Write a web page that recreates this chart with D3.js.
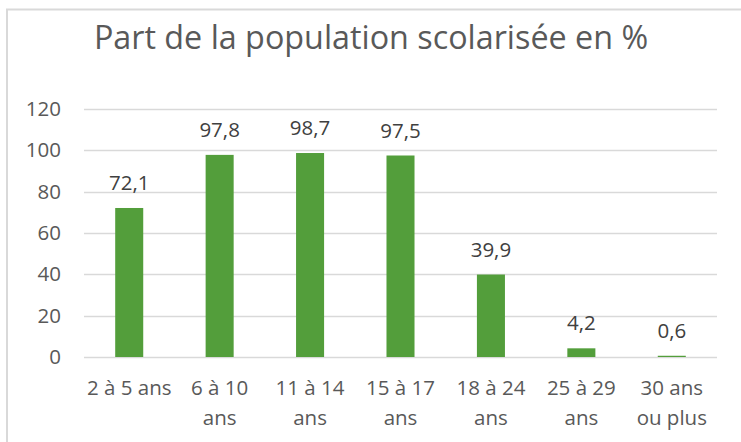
<!DOCTYPE html>
<html>
<head>
<meta charset="utf-8">
<script src="https://cdn.jsdelivr.net/npm/d3@7"></script>
<style>
body { margin:0; background:#fff; }
svg text { font-family:"Open Sans", sans-serif; }
</style>
</head>
<body>
<svg id="chart" width="741" height="442"></svg>
<script>
// categories and values
var categories = [["2 à 5 ans"], ["6 à 10", "ans"], ["11 à 14", "ans"], ["15 à 17", "ans"], ["18 à 24", "ans"], ["25 à 29", "ans"], ["30 ans", "ou plus"]];
var values = [72.1, 97.8, 98.7, 97.5, 39.9, 4.2, 0.6];
var yTicks = [0, 20, 40, 60, 80, 100, 120];
var title = "Part de la population scolarisée en %";

var svg = d3.select("#chart");

// chart frame
svg.append("rect")
  .attr("x", 7).attr("y", 9.5)
  .attr("width", 800).attr("height", 500)
  .attr("fill", "#fff")
  .attr("stroke", "#d9d9d9").attr("stroke-width", 2);

svg.append("text")
  .attr("x", 371).attr("y", 49)
  .attr("text-anchor", "middle")
  .attr("font-size", 32.3)
  .attr("fill", "#595959")
  .text(title);

var x = d3.scaleBand()
  .domain(d3.range(values.length))
  .range([84, 717])
  .paddingInner(0.69)
  .paddingOuter(0.345);

var y = d3.scaleLinear().domain([0, 120]).range([357, 109]);

// grid
svg.append("g").selectAll("line")
  .data(yTicks)
  .enter().append("line")
    .attr("x1", 84).attr("x2", 717)
    .attr("y1", function(d){ return Math.round(y(d)) + 0.5; })
    .attr("y2", function(d){ return Math.round(y(d)) + 0.5; })
    .attr("stroke", "#d9d9d9").attr("stroke-width", 1.5);

var yAxis = svg.append("g")
  .attr("transform", "translate(84,0)")
  .call(d3.axisLeft(y).tickValues(yTicks).tickSize(0).tickPadding(23));
yAxis.select(".domain").remove();
yAxis.selectAll("text")
  .attr("font-size", 20.5)
  .attr("font-family", "Open Sans")
  .attr("fill", "#595959");

svg.append("g").selectAll("rect")
  .data(values)
  .enter().append("rect")
    .attr("x", function(d, i){ return x(i); })
    .attr("y", function(d){ return y(d); })
    .attr("width", x.bandwidth())
    .attr("height", function(d){ return y(0) - y(d); })
    .attr("fill", "#539e3b");

// data labels
svg.append("g").selectAll("text")
  .data(values)
  .enter().append("text")
    .attr("x", function(d, i){ return x(i) + x.bandwidth() / 2; })
    .attr("y", function(d){ return y(d) - 18; })
    .attr("text-anchor", "middle")
    .attr("font-size", 20.5)
    .attr("fill", "#404040")
    .text(function(d){ return String(d).replace(".", ","); });

// category labels, two lines
var cat = svg.append("g").selectAll("text")
  .data(categories)
  .enter().append("text")
    .attr("text-anchor", "middle")
    .attr("font-size", 20.5)
    .attr("fill", "#595959");
cat.each(function(lines, i){
  var t = d3.select(this);
  lines.forEach(function(s, k){
    t.append("tspan")
      .attr("x", x(i) + x.bandwidth() / 2)
      .attr("y", 395 + k * 30)
      .text(s);
  });
});
</script>
</body>
</html>
